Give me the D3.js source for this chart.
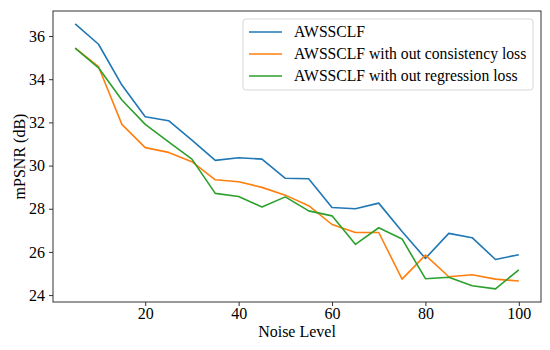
<!DOCTYPE html>
<html>
<head>
<meta charset="utf-8">
<script src="https://cdn.jsdelivr.net/npm/d3@7"></script>
<style>
  body { margin: 0; background: #fff; }
  svg text { font-family: "Liberation Serif", "Times New Roman", serif; }
</style>
</head>
<body>
<svg id="chart"></svg>
<script>
var noiseLevels = [5, 10, 15, 20, 25, 30, 35, 40, 45, 50, 55, 60, 65, 70, 75, 80, 85, 90, 95, 100]
var full = [36.56, 35.62, 33.73, 32.26, 32.08, 31.18, 30.24, 30.36, 30.30, 29.41, 29.39, 28.06, 28.00, 28.26, 26.95, 25.70, 26.86, 26.66, 25.65, 25.87]
var noConsistency = [35.44, 34.58, 31.91, 30.83, 30.61, 30.18, 29.34, 29.25, 28.99, 28.63, 28.14, 27.27, 26.90, 26.90, 24.74, 25.85, 24.85, 24.94, 24.74, 24.65]
var noRegression = [35.44, 34.53, 33.04, 31.91, 31.10, 30.30, 28.71, 28.57, 28.08, 28.55, 27.90, 27.67, 26.35, 27.12, 26.60, 24.76, 24.83, 24.43, 24.29, 25.17]
var seriesNames = ["AWSSCLF", "AWSSCLF with out consistency loss", "AWSSCLF with out regression loss"]
var xTicks = [20, 40, 60, 80, 100]
var yTicks = [24, 26, 28, 30, 32, 34, 36]

var dimensions = {
  width: 550,
  height: 350,
  margin: { top: 11, bottom: 48, right: 9, left: 53 }
}

var colors = ["#1f77b4", "#ff7f0e", "#2ca02c"]
var allSeries = [full, noConsistency, noRegression]

var svg = d3.select("#chart")
  .attr("width", dimensions.width)
  .attr("height", dimensions.height)

var xScale = d3.scaleLinear()
  .domain([0.25, 104.75])
  .range([dimensions.margin.left, dimensions.width - dimensions.margin.right])

var yScale = d3.scaleLinear()
  .domain([23.68, 37.16])
  .range([dimensions.height - dimensions.margin.bottom, dimensions.margin.top])

var line = d3.line()
  .x((d, i) => xScale(noiseLevels[i]))
  .y(d => yScale(d))

svg.append("g")
  .selectAll("path")
  .data(allSeries)
  .enter().append("path")
  .attr("d", d => line(d))
  .attr("fill", "none")
  .attr("stroke", (d, i) => colors[i])
  .attr("stroke-width", 1.6)
  .attr("stroke-linejoin", "round")

// frame
svg.append("rect")
  .attr("x", dimensions.margin.left)
  .attr("y", dimensions.margin.top)
  .attr("width", dimensions.width - dimensions.margin.left - dimensions.margin.right)
  .attr("height", dimensions.height - dimensions.margin.top - dimensions.margin.bottom)
  .attr("fill", "none")
  .attr("stroke", "#333")
  .attr("stroke-width", 1)

var xAxisGen = d3.axisBottom().scale(xScale).tickValues(xTicks).tickSize(4).tickPadding(2)
var xAxis = svg.append("g")
  .attr("transform", `translate(0,${dimensions.height - dimensions.margin.bottom})`)
  .call(xAxisGen)

var yAxisGen = d3.axisLeft().scale(yScale).tickValues(yTicks).tickSize(4).tickPadding(4)
var yAxis = svg.append("g")
  .attr("transform", `translate(${dimensions.margin.left},0)`)
  .call(yAxisGen)

svg.selectAll(".domain").remove()
svg.selectAll(".tick line").attr("stroke", "#333")
svg.selectAll("g").attr("font-family", null).attr("font-size", null)
svg.selectAll(".tick text")
  .attr("fill", "#000")
  .style("font-size", "16px")
  .style("font-family", "'Liberation Serif', serif")

svg.append("text")
  .attr("x", (dimensions.margin.left + dimensions.width - dimensions.margin.right) / 2)
  .attr("y", 337)
  .attr("text-anchor", "middle")
  .style("font-size", "16px")
  .text("Noise Level")

svg.append("text")
  .attr("transform", `translate(25,${(dimensions.margin.top + dimensions.height - dimensions.margin.bottom) / 2}) rotate(-90)`)
  .attr("text-anchor", "middle")
  .style("font-size", "16px")
  .text("mPSNR (dB)")

// legend
var legend = svg.append("g")
legend.append("rect")
  .attr("x", 243)
  .attr("y", 19)
  .attr("width", 290)
  .attr("height", 71)
  .attr("rx", 3)
  .attr("fill", "#fff")
  .attr("fill-opacity", 0.8)
  .attr("stroke", "#d6d6d6")

var rows = legend.selectAll(".row")
  .data(seriesNames)
  .enter().append("g")
  .attr("transform", (d, i) => `translate(0,${32 + i * 22})`)

rows.append("line")
  .attr("x1", 249).attr("x2", 282)
  .attr("y1", 0).attr("y2", 0)
  .attr("stroke", (d, i) => colors[i])
  .attr("stroke-width", 1.6)

rows.append("text")
  .attr("x", 294)
  .attr("y", 5)
  .style("font-size", "15.7px")
  .text(d => d)
</script>
</body>
</html>
